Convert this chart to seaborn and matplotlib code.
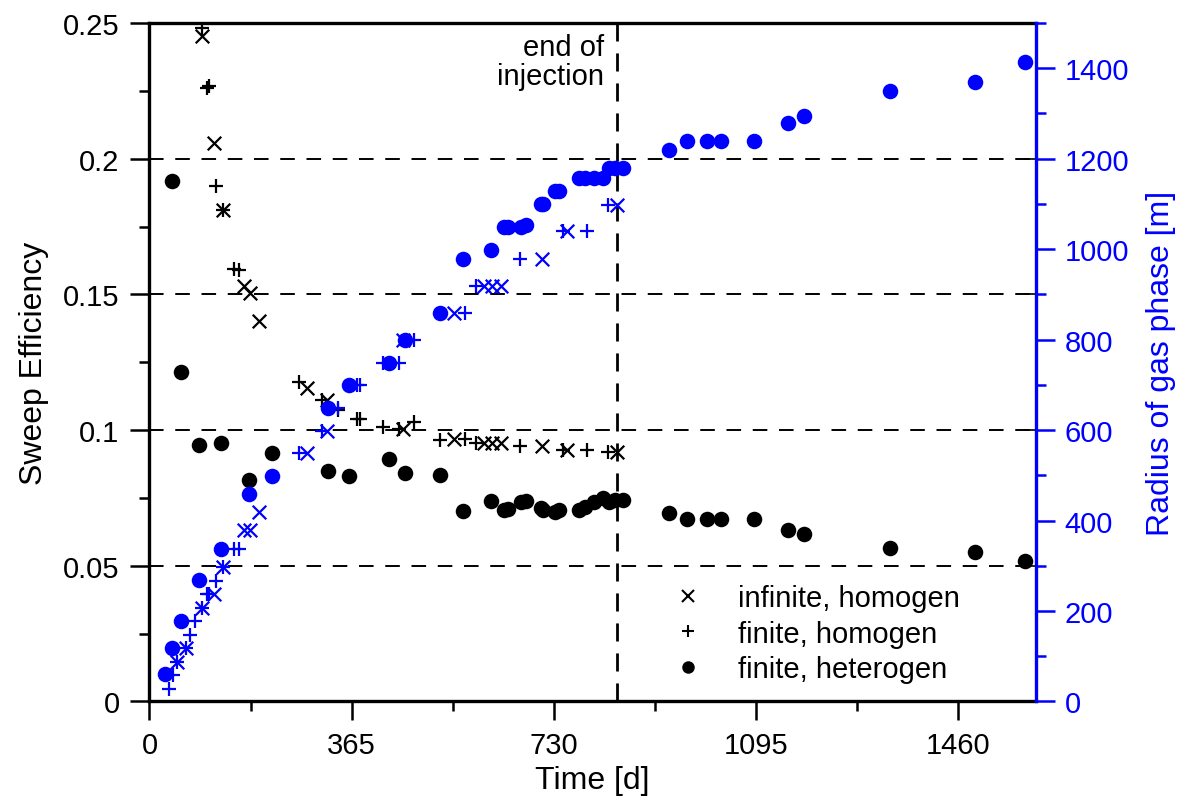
import matplotlib
matplotlib.use("Agg")
import matplotlib.pyplot as plt
from matplotlib.lines import Line2D
from matplotlib.ticker import MultipleLocator, FuncFormatter, NullLocator
import seaborn as sns

# finite, heterogen: sweep efficiency (black dots)
t_het_eff = [41, 57, 89, 129, 180, 222, 323, 360, 433, 462, 524, 566, 616, 640, 648, 670, 679,
             706, 711, 732, 740, 775, 786, 803, 818, 830, 840, 854, 937, 971, 1007, 1031, 1091,
             1152, 1182, 1336, 1490, 1580]
eff_het = [0.1917, 0.1215, 0.0946, 0.0954, 0.0815, 0.0915, 0.0848, 0.0830, 0.0892, 0.0843,
           0.0836, 0.0703, 0.0739, 0.0706, 0.0709, 0.0736, 0.0739, 0.0712, 0.0707, 0.0699,
           0.0706, 0.0706, 0.0718, 0.0734, 0.0750, 0.0734, 0.0742, 0.0742, 0.0695, 0.0672,
           0.0672, 0.0672, 0.0672, 0.0631, 0.0616, 0.0567, 0.0551, 0.0517]

# finite, heterogen: radius (blue dots)
t_het_rad = [28] + t_het_eff
rad_het = [60, 118, 179, 268, 338, 458, 498, 649, 700, 748, 800, 859, 978, 999, 1050, 1050,
           1050, 1054, 1099, 1099, 1129, 1129, 1158, 1158, 1158, 1158, 1179, 1179, 1179, 1219,
           1239, 1239, 1239, 1239, 1280, 1294, 1350, 1370, 1414]

# infinite, homogen (x)
t_inf_eff = [95, 116, 133, 171, 181, 198, 284, 320, 458, 550, 603, 619, 635, 708, 753, 844]
eff_inf = [0.2453, 0.2057, 0.1811, 0.1530, 0.1505, 0.1403, 0.1156, 0.1112, 0.1004, 0.0967,
           0.0951, 0.0951, 0.0951, 0.0943, 0.0927, 0.0920]
t_inf_rad = [50, 66, 95, 116, 133, 171, 181, 198, 284, 320, 458, 550, 603, 619, 635, 708, 753, 844]
rad_inf = [88, 118, 207, 238, 297, 379, 379, 418, 549, 599, 800, 859, 919, 919, 919, 978, 1040, 1098]

# finite, homogen (+)
t_fin_eff = [95, 103, 107, 121, 133, 153, 162, 270, 311, 341, 374, 380, 421, 450, 477, 524,
             570, 589, 668, 746, 790, 828]
eff_fin = [0.2480, 0.2259, 0.2267, 0.1898, 0.1811, 0.1594, 0.1591, 0.1176, 0.1112, 0.1074,
           0.1041, 0.1041, 0.1013, 0.1004, 0.1029, 0.0963, 0.0967, 0.0951, 0.0943, 0.0927,
           0.0927, 0.0920]
t_fin_rad = [36, 43, 50, 66, 73, 82, 95, 103, 107, 121, 133, 153, 162, 270, 311, 341, 374, 380,
             421, 450, 477, 524, 570, 589, 668, 746, 790, 828]
rad_fin = [28, 59, 88, 118, 148, 179, 207, 238, 238, 267, 297, 338, 338, 549, 599, 649, 700, 700,
           748, 748, 800, 859, 859, 919, 978, 1040, 1040, 1098]

end_of_injection = 843
labels = ["infinite, homogen", "finite, homogen", "finite, heterogen"]

sns.set_theme(style="ticks")
plt.rcParams["font.family"] = ["Liberation Sans", "DejaVu Sans"]
plt.rcParams["text.color"] = "black"
plt.rcParams["axes.labelcolor"] = "black"
plt.rcParams["xtick.color"] = "black"
plt.rcParams["ytick.color"] = "black"

BLUE = "#0000ff"
fig = plt.figure(figsize=(11.88, 8.03), dpi=100)
ax = fig.add_axes([0.1258, 0.1252, 0.7462, 0.8449])
ax2 = ax.twinx()

# sweep efficiency, left axis
sns.scatterplot(x=t_inf_eff, y=eff_inf, marker="x", color="black", s=95, linewidth=1.6, ax=ax)
sns.scatterplot(x=t_fin_eff, y=eff_fin, marker="+", color="black", s=110, linewidth=1.6, ax=ax)
sns.scatterplot(x=t_het_eff, y=eff_het, marker="o", color="black", s=125, linewidth=0, ax=ax)

# radius, right axis
sns.scatterplot(x=t_inf_rad, y=rad_inf, marker="x", color=BLUE, s=95, linewidth=1.6, ax=ax2)
sns.scatterplot(x=t_fin_rad, y=rad_fin, marker="+", color=BLUE, s=110, linewidth=1.6, ax=ax2)
sns.scatterplot(x=t_het_rad, y=rad_het, marker="o", color=BLUE, s=125, linewidth=0, ax=ax2)

ax.set_xlim(0, 1600)
ax.set_ylim(0, 0.25)
ax2.set_ylim(0, 1500)

ax.xaxis.set_major_locator(MultipleLocator(365))
ax.xaxis.set_minor_locator(MultipleLocator(182.5))
ax.yaxis.set_major_locator(MultipleLocator(0.05))
ax.yaxis.set_minor_locator(MultipleLocator(0.025))
ax.yaxis.set_major_formatter(FuncFormatter(lambda v, p: f"{v:g}"))
ax2.yaxis.set_major_locator(MultipleLocator(200))
ax2.yaxis.set_minor_locator(MultipleLocator(100))

ax.yaxis.grid(True, which="major", color="black", linestyle=(0, (7.5, 6)), linewidth=1.4)
ax.axvline(end_of_injection, color="black", linestyle=(0, (6.5, 4.3)), linewidth=2.0)
ax.text(820, 0.2465, "end of\ninjection", ha="right", va="top", fontsize=21, linespacing=1.05,
        color="black")

for side in ["left", "top", "bottom"]:
    ax.spines[side].set_linewidth(2.4)
    ax.spines[side].set_color("black")
    ax2.spines[side].set_visible(False)
ax.spines["right"].set_visible(False)
ax2.spines["right"].set_linewidth(2.4)
ax2.spines["right"].set_color(BLUE)

ax.tick_params(which="major", direction="out", length=13.5, width=1.8, labelsize=21, pad=8,
               colors="black")
ax.tick_params(which="minor", direction="out", length=7, width=1.8, colors="black")
ax2.tick_params(which="major", direction="out", length=13.5, width=1.8, labelsize=21, pad=7,
                colors=BLUE)
ax2.tick_params(which="minor", direction="out", length=7, width=1.8, colors=BLUE)

# small inward ticks of the left scale on the right side
sec = ax.secondary_yaxis("right")
sec.yaxis.set_major_locator(MultipleLocator(0.05))
sec.yaxis.set_minor_locator(NullLocator())
sec.tick_params(direction="in", length=9, width=1.2, labelright=False, colors="black")
sec.spines["right"].set_visible(False)

ax.set_xlabel("Time [d]", fontsize=23, labelpad=4, color="black")
ax.set_ylabel("Sweep Efficiency", fontsize=23, labelpad=10, color="black")
ax2.set_ylabel("Radius of gas phase [m]", fontsize=23, color=BLUE, labelpad=12)

handles = [
    Line2D([], [], marker="x", linestyle="none", color="black", markersize=8, markeredgewidth=1.5),
    Line2D([], [], marker="+", linestyle="none", color="black", markersize=9, markeredgewidth=1.5),
    Line2D([], [], marker="o", linestyle="none", color="black", markersize=9, markeredgewidth=0),
]
ax.legend(handles, labels, loc="upper left", bbox_to_anchor=(0.562, 0.19), frameon=False,
          fontsize=21, handletextpad=0.7, labelspacing=0.25, borderaxespad=0)

fig.savefig("out.png", dpi=100)
